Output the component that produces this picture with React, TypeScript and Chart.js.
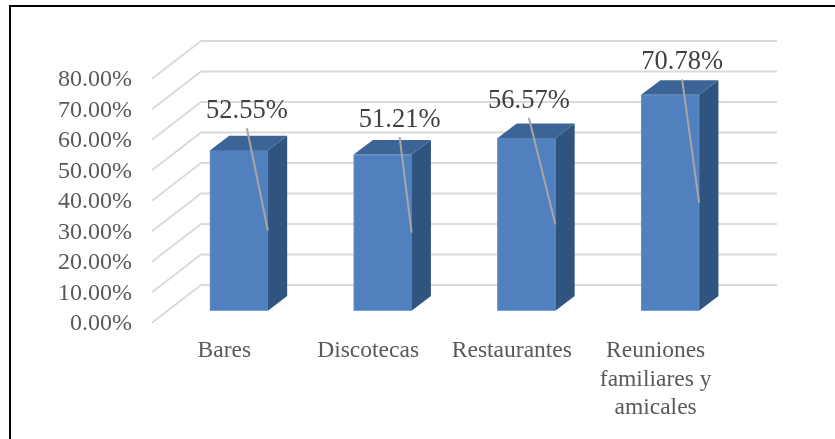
import React, { useEffect, useRef } from "react";
import { Chart, registerables } from "chart.js";

Chart.register(...registerables);

const categories: (string | string[])[] = ["Bares", "Discotecas", "Restaurantes", ["Reuniones", "familiares y", "amicales"]];
const values = [52.55, 51.21, 56.57, 70.78];
const yTicks = [0, 10, 20, 30, 40, 50, 60, 70, 80];
const labelDx = [8, 17, 2.5, 12];
const labelDy = [-40.7, -36, -39, -34];

const PLOT = { left: 167, right: 742, top: 78.7, bottom: 322.7 };
const PX_PER_UNIT = (PLOT.bottom - PLOT.top) / 80;
const BAR_DROP = 12; // bars stand this far behind the front edge of the floor
const BAR_DEPTH = { x: 19.3, y: 14.6 };
const GRID_DEPTH = { x: 49, y: 37.7 };
const GRID_LEFT_INSET = 15;
const GRID_RIGHT = 777;

const SERIF = "'Liberation Serif', 'Times New Roman', serif";

const scene = {
  id: "scene",
  beforeDraw(chart: any) {
    const { ctx, width, height } = chart;
    ctx.save();
    ctx.fillStyle = "#ffffff";
    ctx.fillRect(0, 0, width, height);
    ctx.fillStyle = "#000000";
    ctx.fillRect(9, 5, width - 9, 2);
    ctx.fillRect(9, 5, 2, height - 5);
    ctx.restore();
  },
  beforeDatasetsDraw(chart: any) {
    const { ctx, chartArea } = chart;
    const axis = chart.scales.yFront;
    ctx.save();
    ctx.strokeStyle = "#DADADA";
    ctx.lineWidth = 2;
    ctx.lineJoin = "miter";
    yTicks.forEach((t) => {
      const y = axis.getPixelForValue(t);
      const x0 = chartArea.left - GRID_LEFT_INSET;
      ctx.beginPath();
      ctx.moveTo(x0, y);
      ctx.lineTo(x0 + GRID_DEPTH.x, y - GRID_DEPTH.y);
      ctx.lineTo(GRID_RIGHT, y - GRID_DEPTH.y);
      ctx.stroke();
    });
    ctx.restore();
  },
  afterDatasetsDraw(chart: any) {
    const { ctx } = chart;
    const bars = chart.getDatasetMeta(0).data;
    ctx.save();
    bars.forEach((bar: any) => {
      const right = bar.x + bar.width / 2;
      const left = bar.x - bar.width / 2;
      const top = bar.y;
      const base = bar.base;
      ctx.fillStyle = "#3C6496";
      ctx.beginPath();
      ctx.moveTo(left, top);
      ctx.lineTo(left + BAR_DEPTH.x, top - BAR_DEPTH.y);
      ctx.lineTo(right + BAR_DEPTH.x, top - BAR_DEPTH.y);
      ctx.lineTo(right, top);
      ctx.closePath();
      ctx.fill();
      ctx.fillStyle = "#305480";
      ctx.beginPath();
      ctx.moveTo(right, top);
      ctx.lineTo(right + BAR_DEPTH.x, top - BAR_DEPTH.y);
      ctx.lineTo(right + BAR_DEPTH.x, base - BAR_DEPTH.y);
      ctx.lineTo(right, base);
      ctx.closePath();
      ctx.fill();
    });
    bars.forEach((bar: any, i: number) => {
      const right = bar.x + bar.width / 2;
      const lx = bar.x + labelDx[i];
      const ly = bar.y + labelDy[i];
      ctx.strokeStyle = "#A6A6A6";
      ctx.lineWidth = 2;
      ctx.beginPath();
      ctx.moveTo(lx, ly + 18.5);
      ctx.lineTo(right, (bar.y + bar.base) / 2);
      ctx.stroke();
      ctx.fillStyle = "#404040";
      ctx.font = `26.5px ${SERIF}`;
      ctx.textAlign = "center";
      ctx.textBaseline = "middle";
      ctx.fillText(values[i].toFixed(2) + "%", lx, ly + 1.5);
    });
    ctx.restore();
  },
};

export default function App() {
  const ref = useRef<HTMLCanvasElement>(null);
  useEffect(() => {
    document.body.style.margin = "0";
    const chart = new Chart(ref.current!, {
      type: "bar",
      data: {
        labels: categories as any,
        datasets: [
          {
            data: values,
            backgroundColor: "#5080BE",
            borderColor: "#6490CA",
            borderWidth: 1,
            barThickness: 58,
            yAxisID: "y",
          },
        ],
      },
      options: {
        responsive: false,
        animation: false,
        devicePixelRatio: 1,
        layout: { padding: { top: PLOT.top, right: 835 - PLOT.right, left: 0, bottom: 0 } },
        plugins: { legend: { display: false }, title: { display: false }, tooltip: { enabled: false } },
        scales: {
          x: {
            type: "category",
            grid: { display: false, drawTicks: false },
            border: { display: false },
            afterFit(s: any) {
              s.height = 439 - PLOT.bottom;
            },
            ticks: {
              color: "#595959",
              font: { family: SERIF, size: 23.5, lineHeight: 1.21 },
              padding: 14,
              labelOffset: -14.5,
              maxRotation: 0,
              minRotation: 0,
              autoSkip: false,
            },
          },
          y: {
            display: false,
            min: -BAR_DROP / PX_PER_UNIT,
            max: 80 - BAR_DROP / PX_PER_UNIT,
          },
          yFront: {
            position: "left",
            min: 0,
            max: 80,
            grid: { display: false, drawTicks: false },
            border: { display: false },
            afterFit(s: any) {
              s.width = PLOT.left;
            },
            afterBuildTicks(s: any) {
              s.ticks = yTicks.map((value) => ({ value }));
            },
            ticks: {
              color: "#595959",
              font: { family: SERIF, size: 24 },
              padding: 35,
              autoSkip: false,
              labelOffset: 1.5,
              callback: (v: any) => Number(v).toFixed(2) + "%",
            },
          },
        },
      } as any,
      plugins: [scene],
    });
    return () => chart.destroy();
  }, []);
  return <canvas ref={ref} width={835} height={439} style={{ display: "block" }} />;
}
